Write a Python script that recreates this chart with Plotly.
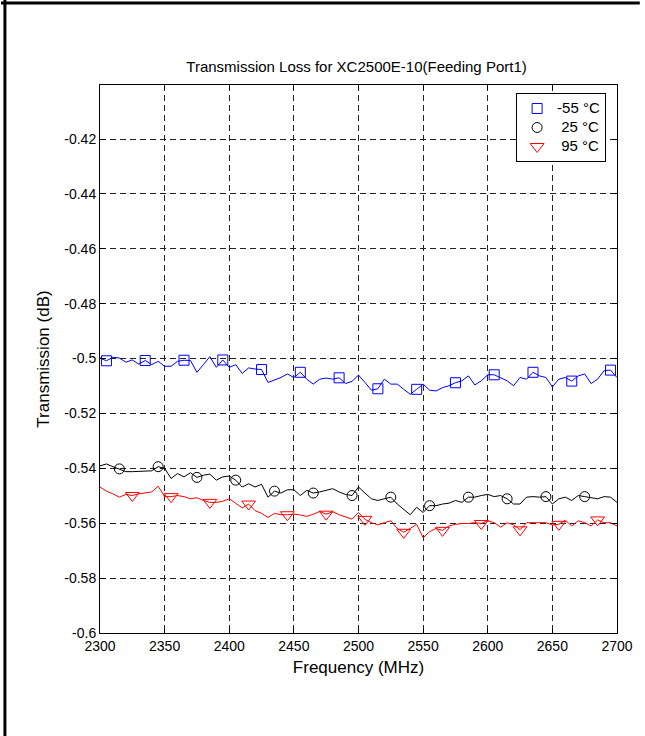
import plotly.graph_objects as go

freq = [2300 + 5 * i for i in range(81)]

loss_m55 = [-0.4998, -0.5008, -0.4995, -0.4998, -0.5013, -0.5005, -0.5020, -0.5007, -0.5022, -0.5010,
            -0.5028, -0.5028, -0.5010, -0.5006, -0.5007, -0.5050, -0.5022, -0.4993, -0.5032, -0.5005,
            -0.5032, -0.5022, -0.5054, -0.5034, -0.5038, -0.5040, -0.5087, -0.5079, -0.5069, -0.5056,
            -0.5069, -0.5050, -0.5075, -0.5093, -0.5075, -0.5071, -0.5075, -0.5070, -0.5091, -0.5083,
            -0.5060, -0.5087, -0.5115, -0.5110, -0.5075, -0.5093, -0.5093, -0.5112, -0.5130, -0.5112,
            -0.5093, -0.5115, -0.5118, -0.5106, -0.5099, -0.5088, -0.5081, -0.5063, -0.5096, -0.5081,
            -0.5059, -0.5059, -0.5069, -0.5081, -0.5099, -0.5069, -0.5075, -0.5050, -0.5063, -0.5069,
            -0.5103, -0.5075, -0.5069, -0.5082, -0.5063, -0.5056, -0.5091, -0.5075, -0.5044, -0.5042,
            -0.5069]

loss_25 = [-0.5391, -0.5384, -0.5394, -0.5402, -0.5412, -0.5412, -0.5412, -0.5410, -0.5409, -0.5394,
           -0.5400, -0.5437, -0.5419, -0.5431, -0.5416, -0.5433, -0.5425, -0.5421, -0.5443, -0.5431,
           -0.5428, -0.5443, -0.5468, -0.5456, -0.5468, -0.5458, -0.5505, -0.5483, -0.5490, -0.5478,
           -0.5478, -0.5499, -0.5480, -0.5490, -0.5486, -0.5480, -0.5474, -0.5486, -0.5495, -0.5499,
           -0.5468, -0.5490, -0.5511, -0.5517, -0.5511, -0.5505, -0.5530, -0.5548, -0.5569, -0.5542,
           -0.5561, -0.5536, -0.5536, -0.5530, -0.5527, -0.5517, -0.5524, -0.5505, -0.5505, -0.5499,
           -0.5495, -0.5503, -0.5499, -0.5511, -0.5530, -0.5530, -0.5505, -0.5503, -0.5505, -0.5503,
           -0.5530, -0.5511, -0.5505, -0.5517, -0.5499, -0.5503, -0.5507, -0.5511, -0.5503, -0.5505,
           -0.5524]

loss_95 = [-0.5468, -0.5483, -0.5493, -0.5505, -0.5495, -0.5499, -0.5493, -0.5490, -0.5486, -0.5465,
           -0.5503, -0.5503, -0.5499, -0.5503, -0.5511, -0.5507, -0.5517, -0.5524, -0.5524, -0.5520,
           -0.5511, -0.5527, -0.5544, -0.5530, -0.5554, -0.5564, -0.5579, -0.5564, -0.5569, -0.5569,
           -0.5567, -0.5570, -0.5575, -0.5567, -0.5557, -0.5567, -0.5558, -0.5569, -0.5577, -0.5585,
           -0.5561, -0.5586, -0.5598, -0.5606, -0.5598, -0.5591, -0.5619, -0.5633, -0.5619, -0.5604,
           -0.5653, -0.5631, -0.5619, -0.5626, -0.5610, -0.5604, -0.5601, -0.5601, -0.5598, -0.5601,
           -0.5591, -0.5598, -0.5614, -0.5598, -0.5606, -0.5624, -0.5598, -0.5598, -0.5598, -0.5598,
           -0.5606, -0.5604, -0.5589, -0.5610, -0.5591, -0.5598, -0.5610, -0.5588, -0.5598, -0.5598,
           -0.5610]

series_names = ["-55 °C", "\u00a025 °C", "\u00a095 °C"]
series_colors = ["#0000ff", "#000000", "#ff0000"]
series_symbols = ["square-open", "circle-open", "triangle-down-open"]
series_sizes = [10, 10, 12]
marker_offsets = [1, 3, 5]  # first marker index (every 6th sample)

x_ticks = [2300, 2350, 2400, 2450, 2500, 2550, 2600, 2650, 2700]
y_ticks = [-0.6, -0.58, -0.56, -0.54, -0.52, -0.5, -0.48, -0.46, -0.44, -0.42]
y_tick_text = ["-0.6", "-0.58", "-0.56", "-0.54", "-0.52", "-0.5", "-0.48", "-0.46", "-0.44", "-0.42"]

title_text = "Transmission Loss for XC2500E-10(Feeding Port1)"
x_title = "Frequency (MHz)"
y_title = "Transmission (dB)"

W, H = 645, 736
L, R, T, B = 100, 23, 85, 103
PW, PH = W - L - R, H - T - B

def px(xp):
    return (xp - L) / PW

def py(yp):
    return (H - B - yp) / PH

fig = go.Figure()
all_series = [loss_m55, loss_25, loss_95]
for vals, col in zip(all_series, series_colors):
    fig.add_trace(go.Scatter(x=freq, y=vals, mode="lines", line=dict(color=col, width=1),
                             showlegend=False, hoverinfo="skip"))
for vals, name, col, sym, sz, off in zip(all_series, series_names, series_colors, series_symbols,
                                         series_sizes, marker_offsets):
    fig.add_trace(go.Scatter(x=freq[off::6], y=vals[off::6], mode="markers",
                             name="<span style='font-size:15px'>" + name + "</span>",
                             marker=dict(symbol=sym, size=sz, color=col, line=dict(color=col, width=1))))

font = "Liberation Sans, Arial, Helvetica, sans-serif"
fig.update_layout(
    width=W, height=H,
    margin=dict(l=L, r=R, t=T, b=B),
    paper_bgcolor="white", plot_bgcolor="white",
    font=dict(family=font, size=14, color="black"),
    title=dict(text=title_text, x=px(359), xanchor="center", xref="paper",
               y=1 - 67 / H, yanchor="middle", font=dict(size=15)),
    legend=dict(x=px(611), xanchor="right", y=py(93), yanchor="top",
                bgcolor="white", bordercolor="black", borderwidth=1,
                font=dict(size=12), tracegroupgap=0, itemwidth=30),
    shapes=[
        dict(type="line", xref="paper", yref="paper", x0=px(0), x1=px(645), y0=py(3), y1=py(3),
             line=dict(color="black", width=3)),
        dict(type="line", xref="paper", yref="paper", x0=px(4), x1=px(4), y0=py(0), y1=py(736),
             line=dict(color="black", width=3)),
    ],
)
fig.update_xaxes(range=[2300, 2700], tickvals=x_ticks, ticktext=[str(v) for v in x_ticks],
                 showgrid=True, gridcolor="#222222", griddash="6px,4px", gridwidth=1,
                 showline=True, linecolor="black", linewidth=1, mirror="ticks",
                 ticks="inside", ticklen=5, tickcolor="black", zeroline=False,
                 title=dict(text=x_title, standoff=8), tickfont=dict(size=14))
fig.update_yaxes(range=[-0.6, -0.4003], tickvals=y_ticks, ticktext=y_tick_text,
                 showgrid=True, gridcolor="#222222", griddash="6px,4px", gridwidth=1,
                 showline=True, linecolor="black", linewidth=1, mirror="ticks",
                 ticks="inside", ticklen=5, tickcolor="black", zeroline=False,
                 title=dict(text=y_title, standoff=10), tickfont=dict(size=14))

fig.write_html("out.html", config={"displayModeBar": False},
               post_script="document.body.style.margin='0';document.body.style.overflow='hidden';")
